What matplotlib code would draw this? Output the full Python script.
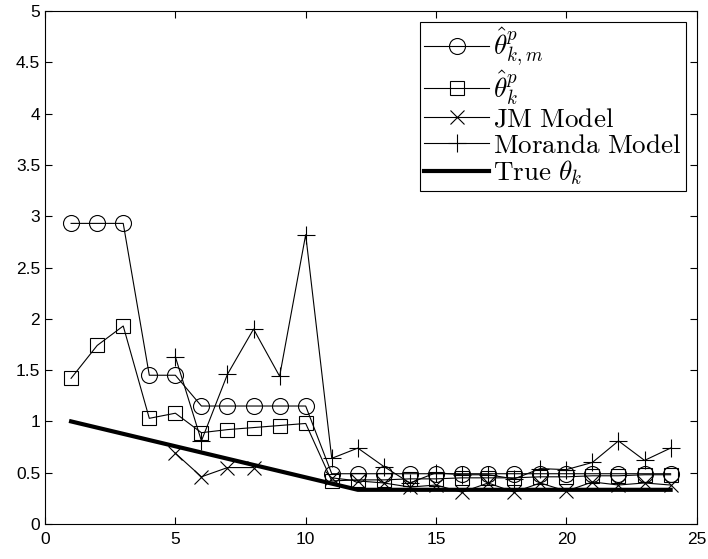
import matplotlib
matplotlib.use("Agg")
import matplotlib.pyplot as plt
import numpy as np

plt.rcParams['mathtext.fontset'] = 'cm'
plt.rcParams['font.family'] = ['Liberation Sans', 'DejaVu Sans']

k = np.arange(1, 25)

theta_pm = [2.93, 2.93, 2.93, 1.45, 1.45, 1.15, 1.15, 1.15, 1.15, 1.15,
            0.49, 0.49, 0.49, 0.49, 0.49, 0.49, 0.49, 0.49, 0.49, 0.49,
            0.49, 0.49, 0.49, 0.49]
theta_p = [1.42, 1.74, 1.93, 1.03, 1.08, 0.89, 0.92, 0.94, 0.96, 0.98,
           0.42, 0.43, 0.43, 0.44, 0.44, 0.45, 0.45, 0.45, 0.46, 0.46,
           0.47, 0.47, 0.48, 0.48]
jm = [np.nan, np.nan, np.nan, np.nan, 0.69, 0.46, 0.55, 0.55, np.nan, np.nan,
      0.45, 0.42, 0.40, 0.36, 0.38, 0.31, 0.40, 0.31, 0.40, 0.32,
      0.41, 0.38, 0.40, 0.38]
moranda = [np.nan, np.nan, np.nan, np.nan, 1.63, 0.81, 1.46, 1.90, 1.44, 2.82,
           0.64, 0.74, 0.56, 0.40, 0.50, 0.48, 0.48, 0.44, 0.54, 0.53,
           0.60, 0.81, 0.62, 0.74]
true_k = [1, 12, 24]
true_theta = [1.0, 1 / 3, 1 / 3]

fig = plt.figure(figsize=(7.08, 5.59), dpi=100)
ax = fig.add_axes([0.0636, 0.0626, 0.9204, 0.9177])

lw = 0.8
ax.plot(k, theta_pm, '-o', color='k', lw=lw, mfc='none', ms=11.5, mew=0.8,
        label=r'$\hat{\theta}^p_{k,m}$')
ax.plot(k, theta_p, '-s', color='k', lw=lw, mfc='none', ms=10, mew=0.8,
        label=r'$\hat{\theta}^p_{k}$')
ax.plot(k, jm, '-x', color='k', lw=lw, ms=10, mew=0.8,
        label=r'$\mathrm{JM\ Model}$')
ax.plot(k, moranda, '-+', color='k', lw=lw, ms=13, mew=0.8,
        label=r'$\mathrm{Moranda\ Model}$')
ax.plot(true_k, true_theta, '-', color='k', lw=3,
        label=r'$\mathrm{True}\ \theta_k$')

ax.set_xlim(0, 25)
ax.set_ylim(0, 5)
ax.set_xticks([0, 5, 10, 15, 20, 25])
ax.set_yticks(np.arange(0, 5.01, 0.5))
ax.set_yticklabels(['0', '0.5', '1', '1.5', '2', '2.5', '3', '3.5', '4', '4.5', '5'])
ax.tick_params(direction='in', top=True, right=True, labelsize=12.5, length=5, width=0.8)
ax.tick_params(axis='x', pad=6)
for s in ax.spines.values():
    s.set_linewidth(0.8)

leg = ax.legend(loc='upper right', fontsize=19.5, handlelength=2.4, labelspacing=0.0,
                handletextpad=0.15, borderpad=0.15, borderaxespad=0.4,
                fancybox=False, edgecolor='k', framealpha=1)
leg.get_frame().set_linewidth(0.8)

fig.savefig("out.png", dpi=100)
